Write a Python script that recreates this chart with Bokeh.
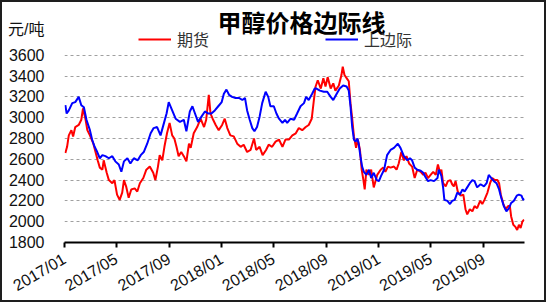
import pandas as pd
from bokeh.plotting import figure
from bokeh.models import (Range1d, FixedTicker, DatetimeTickFormatter, Legend, LegendItem,
                          Label)
from bokeh.embed import file_html
from bokeh.resources import INLINE

title_text = "甲醇价格边际线"
unit_text = "元/吨"
red_name = "期货"
blue_name = "上边际"

y_ticks = [1800, 2000, 2200, 2400, 2600, 2800, 3000, 3200, 3400, 3600]
unit_tick = 3850
x_tick_dates = ["2017-01-01", "2017-05-01", "2017-09-01", "2018-01-01", "2018-05-01",
                "2018-09-01", "2019-01-01", "2019-05-01", "2019-09-01"]
x_start = "2017-01-01"
x_end = "2019-12-05"

blue_dates = [
    "2017-01-03", "2017-01-06", "2017-01-11", "2017-01-19", "2017-01-26", "2017-02-03", "2017-02-09",
    "2017-02-15", "2017-02-21", "2017-03-01", "2017-03-06", "2017-03-12", "2017-03-18", "2017-03-24",
    "2017-03-30", "2017-04-06", "2017-04-14", "2017-04-22", "2017-04-29", "2017-05-07", "2017-05-13",
    "2017-05-19", "2017-05-27", "2017-06-03", "2017-06-11", "2017-06-20", "2017-06-27", "2017-07-04",
    "2017-07-12", "2017-07-20", "2017-07-27", "2017-08-04", "2017-08-12", "2017-08-20", "2017-08-26",
    "2017-08-31", "2017-09-08", "2017-09-16", "2017-09-26", "2017-10-05", "2017-10-11", "2017-10-19",
    "2017-10-25", "2017-10-31", "2017-11-07", "2017-11-15", "2017-11-23", "2017-12-01", "2017-12-08",
    "2017-12-16", "2017-12-24", "2018-01-01", "2018-01-06", "2018-01-12", "2018-01-18", "2018-01-25",
    "2018-02-02", "2018-02-10", "2018-02-18", "2018-02-24", "2018-03-01", "2018-03-07", "2018-03-13",
    "2018-03-18", "2018-03-24", "2018-03-30", "2018-04-05", "2018-04-13", "2018-04-19", "2018-04-24",
    "2018-05-02", "2018-05-08", "2018-05-14", "2018-05-22", "2018-05-28", "2018-06-02", "2018-06-10",
    "2018-06-18", "2018-06-25", "2018-07-03", "2018-07-11", "2018-07-16", "2018-07-22", "2018-07-30",
    "2018-08-05", "2018-08-09", "2018-08-17", "2018-08-26", "2018-09-03", "2018-09-11", "2018-09-17",
    "2018-09-25", "2018-10-02", "2018-10-10", "2018-10-18", "2018-10-23", "2018-10-27", "2018-10-31",
    "2018-11-04", "2018-11-08", "2018-11-12", "2018-11-15", "2018-11-19", "2018-11-23", "2018-11-27",
    "2018-12-03", "2018-12-09", "2018-12-14", "2018-12-20", "2018-12-27", "2019-01-01", "2019-01-06",
    "2019-01-13", "2019-01-20", "2019-01-28", "2019-02-05", "2019-02-14", "2019-02-20", "2019-02-28",
    "2019-03-08", "2019-03-14", "2019-03-19", "2019-03-25", "2019-03-31", "2019-04-08", "2019-04-14",
    "2019-04-19", "2019-04-25", "2019-05-01", "2019-05-09", "2019-05-17", "2019-05-20", "2019-05-26",
    "2019-05-30", "2019-06-02", "2019-06-09", "2019-06-15", "2019-06-20", "2019-06-26", "2019-07-02",
    "2019-07-08", "2019-07-14", "2019-07-19", "2019-07-25", "2019-07-31", "2019-08-06", "2019-08-11",
    "2019-08-17", "2019-08-25", "2019-09-02", "2019-09-08", "2019-09-13", "2019-09-19", "2019-09-25",
    "2019-10-01", "2019-10-07", "2019-10-12", "2019-10-18", "2019-10-24", "2019-10-30", "2019-11-04",
    "2019-11-10", "2019-11-17", "2019-11-22", "2019-11-28", "2019-12-02", "2019-12-05",
]
blue_vals = [
    3120, 3040, 3070, 3140, 3150, 3200, 3120,
    3100, 2980, 2880, 2790, 2720, 2670, 2610,
    2640, 2630, 2610, 2630, 2580, 2550, 2480,
    2580, 2610, 2560, 2610, 2590, 2640, 2670,
    2750, 2850, 2900, 2910, 2830, 2950, 3040,
    3150, 3070, 2990, 2960, 2980, 2870, 3060,
    3110, 3040, 2960, 3010, 3060, 3040, 3040,
    3070, 3110, 3150, 3230, 3270, 3220, 3200,
    3190, 3190, 3170, 3190, 3070, 2980, 2900,
    2870, 2910, 3010, 3140, 3250, 3200, 3110,
    3110, 3040, 2990, 2950, 2980, 2950, 2990,
    2980, 3040, 3110, 3140, 3200, 3170, 3230,
    3280, 3280, 3260, 3250, 3250, 3200, 3170,
    3230, 3280, 3310, 3300, 3260, 3110, 2910,
    2790, 2770, 2800, 2750, 2630, 2530, 2480,
    2450, 2500, 2420, 2470, 2400, 2390, 2440,
    2500, 2640, 2690, 2710, 2750, 2710, 2630,
    2590, 2610, 2590, 2520, 2500, 2490, 2470,
    2430, 2390, 2400, 2390, 2420, 2500, 2440,
    2330, 2210, 2200, 2170, 2200, 2210, 2280,
    2260, 2310, 2290, 2330, 2370, 2400, 2390,
    2330, 2360, 2340, 2370, 2450, 2420, 2390,
    2370, 2310, 2230, 2150, 2100, 2130, 2180,
    2200, 2250, 2260, 2250, 2210, 2220,
]

red_dates = [
    "2017-01-03", "2017-01-07", "2017-01-11", "2017-01-17", "2017-01-21", "2017-01-26", "2017-02-03",
    "2017-02-09", "2017-02-13", "2017-02-19", "2017-02-23", "2017-03-01", "2017-03-09", "2017-03-14",
    "2017-03-19", "2017-03-24", "2017-03-30", "2017-04-02", "2017-04-09", "2017-04-14", "2017-04-22",
    "2017-04-27", "2017-05-03", "2017-05-09", "2017-05-15", "2017-05-19", "2017-05-24", "2017-05-30",
    "2017-06-05", "2017-06-13", "2017-06-19", "2017-06-25", "2017-07-03", "2017-07-10", "2017-07-18",
    "2017-07-26", "2017-07-31", "2017-08-06", "2017-08-10", "2017-08-16", "2017-08-21", "2017-08-27",
    "2017-09-02", "2017-09-08", "2017-09-13", "2017-09-18", "2017-09-23", "2017-09-29", "2017-10-05",
    "2017-10-11", "2017-10-17", "2017-10-21", "2017-10-28", "2017-11-05", "2017-11-13", "2017-11-21",
    "2017-11-26", "2017-12-02", "2017-12-06", "2017-12-11", "2017-12-18", "2017-12-25", "2018-01-02",
    "2018-01-08", "2018-01-14", "2018-01-21", "2018-01-29", "2018-02-06", "2018-02-14", "2018-02-21",
    "2018-03-01", "2018-03-09", "2018-03-17", "2018-03-22", "2018-03-30", "2018-04-06", "2018-04-14",
    "2018-04-20", "2018-04-28", "2018-05-06", "2018-05-14", "2018-05-22", "2018-05-29", "2018-06-06",
    "2018-06-14", "2018-06-22", "2018-06-29", "2018-07-07", "2018-07-15", "2018-07-22", "2018-07-29",
    "2018-08-03", "2018-08-07", "2018-08-12", "2018-08-19", "2018-08-25", "2018-08-30", "2018-09-04",
    "2018-09-11", "2018-09-17", "2018-09-22", "2018-09-30", "2018-10-06", "2018-10-09", "2018-10-13",
    "2018-10-18", "2018-10-23", "2018-10-27", "2018-10-31", "2018-11-04", "2018-11-09", "2018-11-13",
    "2018-11-18", "2018-11-22", "2018-11-26", "2018-11-29", "2018-12-03", "2018-12-09", "2018-12-14",
    "2018-12-20", "2018-12-28", "2019-01-05", "2019-01-11", "2019-01-16", "2019-01-22", "2019-01-28",
    "2019-02-05", "2019-02-11", "2019-02-16", "2019-02-22", "2019-02-28", "2019-03-06", "2019-03-12",
    "2019-03-19", "2019-03-25", "2019-03-31", "2019-04-08", "2019-04-14", "2019-04-19", "2019-04-25",
    "2019-05-01", "2019-05-07", "2019-05-13", "2019-05-18", "2019-05-23", "2019-05-26", "2019-05-30",
    "2019-06-05", "2019-06-10", "2019-06-16", "2019-06-20", "2019-06-24", "2019-06-28", "2019-07-03",
    "2019-07-10", "2019-07-16", "2019-07-21", "2019-07-25", "2019-07-31", "2019-08-06", "2019-08-11",
    "2019-08-17", "2019-08-24", "2019-08-29", "2019-09-03", "2019-09-10", "2019-09-16", "2019-09-21",
    "2019-09-27", "2019-10-03", "2019-10-07", "2019-10-11", "2019-10-17", "2019-10-22", "2019-10-28",
    "2019-11-01", "2019-11-04", "2019-11-09", "2019-11-14", "2019-11-18", "2019-11-22", "2019-11-26",
    "2019-11-30", "2019-12-04",
]
red_vals = [
    2660, 2720, 2830, 2880, 2820, 2910, 2930,
    2980, 3090, 2980, 2880, 2830, 2750, 2670,
    2590, 2520, 2500, 2590, 2470, 2400, 2370,
    2400, 2260, 2210, 2280, 2400, 2340, 2230,
    2310, 2320, 2290, 2370, 2420, 2500, 2530,
    2470, 2400, 2530, 2640, 2590, 2720, 2850,
    2950, 2830, 2800, 2720, 2630, 2670, 2630,
    2580, 2750, 2710, 2850, 2910, 2990, 2910,
    2980, 3220, 3040, 2990, 2930, 2880, 2930,
    2990, 2900, 2830, 2820, 2750, 2720, 2740,
    2670, 2690, 2800, 2690, 2720, 2640, 2690,
    2740, 2720, 2770, 2790, 2720, 2790, 2790,
    2830, 2850, 2900, 2880, 2910, 2930, 2990,
    3170, 3300, 3360, 3280, 3380, 3300, 3390,
    3280, 3330, 3260, 3310, 3410, 3490, 3410,
    3380, 3350, 3140, 2990, 2820, 2710, 2790,
    2690, 2500, 2400, 2310, 2500, 2450, 2500,
    2330, 2450, 2500, 2520, 2480, 2530, 2520,
    2530, 2500, 2560, 2670, 2590, 2630, 2560,
    2530, 2420, 2500, 2480, 2450, 2470, 2420,
    2450, 2480, 2450, 2550, 2470, 2500, 2370,
    2340, 2390, 2400, 2360, 2340, 2390, 2290,
    2250, 2260, 2120, 2070, 2120, 2100, 2150,
    2130, 2200, 2170, 2210, 2280, 2370, 2420,
    2400, 2400, 2370, 2260, 2170, 2120, 2150,
    2150, 2050, 1970, 1950, 1920, 1970, 1940,
    2000, 2020,
]

bx = pd.to_datetime(blue_dates)
rx = pd.to_datetime(red_dates)

# layout: canvas 546x302 inside a 2px border; frame spans from canvas top to the x axis
frame_top_px = 0
grid_top_px = 53
axis_px = 241
y_top = y_ticks[-1] + (grid_top_px - frame_top_px) * (y_ticks[-1] - y_ticks[0]) / (axis_px - grid_top_px)

p = figure(width=546, height=302, output_backend="svg", toolbar_location=None,
           x_axis_type="datetime",
           x_range=Range1d(pd.Timestamp(x_start), pd.Timestamp(x_end)),
           y_range=Range1d(y_ticks[0], y_top),
           min_border_left=62, min_border_right=24, min_border_top=0, min_border_bottom=61)
p.styles = {"border": "2px solid #1e1e1e"}
p.outline_line_color = None
p.background_fill_color = "white"
p.border_fill_color = "white"

r_red = p.line(rx, red_vals, line_color="#ff0000", line_width=2)
r_blue = p.line(bx, blue_vals, line_color="#0000ff", line_width=2)

# axes
yax = p.yaxis[0]
yax.ticker = FixedTicker(ticks=y_ticks + [unit_tick])
yax.major_label_overrides = {unit_tick: unit_text}
yax.axis_line_color = None
yax.major_tick_line_color = None
yax.minor_tick_line_color = None
yax.major_label_standoff = 14
yax.major_label_text_font = "Liberation Sans, Noto Sans CJK SC"
yax.major_label_text_font_size = "16px"
yax.major_label_text_color = "#111111"

xax = p.xaxis[0]
xticks_ms = [pd.Timestamp(d).value / 1e6 for d in x_tick_dates]
xax.ticker = FixedTicker(ticks=xticks_ms)
fmt = "%Y/%m"
xax.formatter = DatetimeTickFormatter(microseconds=fmt, milliseconds=fmt, seconds=fmt, minsec=fmt,
                                      minutes=fmt, hourmin=fmt, hours=fmt, days=fmt, months=fmt,
                                      years=fmt)
xax.axis_line_color = "black"
xax.axis_line_width = 2
xax.major_tick_line_color = "black"
xax.major_tick_line_width = 2
xax.major_tick_in = 0
xax.major_tick_out = 5
xax.minor_tick_line_color = None
xax.major_label_orientation = 0.53
xax.major_label_standoff = 10
xax.major_label_text_font = "Liberation Sans"
xax.major_label_text_font_size = "16px"
xax.major_label_text_color = "#111111"

p.xgrid.grid_line_color = None
p.ygrid.ticker = FixedTicker(ticks=y_ticks[1:])
p.ygrid.grid_line_color = "#a0a0a0"
p.ygrid.grid_line_dash = "3 3"
p.ygrid.grid_line_width = 1

legend = Legend(items=[LegendItem(label=red_name, renderers=[r_red]),
                       LegendItem(label=blue_name, renderers=[r_blue])],
                orientation="horizontal", location=(74, 191), spacing=116,
                glyph_width=33, glyph_height=16, label_standoff=6, padding=0, margin=0,
                border_line_color=None, background_fill_alpha=0,
                label_text_font="Noto Sans CJK SC", label_text_font_size="16px",
                label_text_color="#333333")
p.add_layout(legend, "center")

p.add_layout(Label(x=237, y=221, x_units="screen", y_units="screen", text=title_text,
                   text_align="center", text_baseline="middle", text_font="Noto Sans CJK SC",
                   text_font_style="bold", text_font_size="24px", text_color="black"))

open("out.html", "w").write(file_html(p, INLINE))
